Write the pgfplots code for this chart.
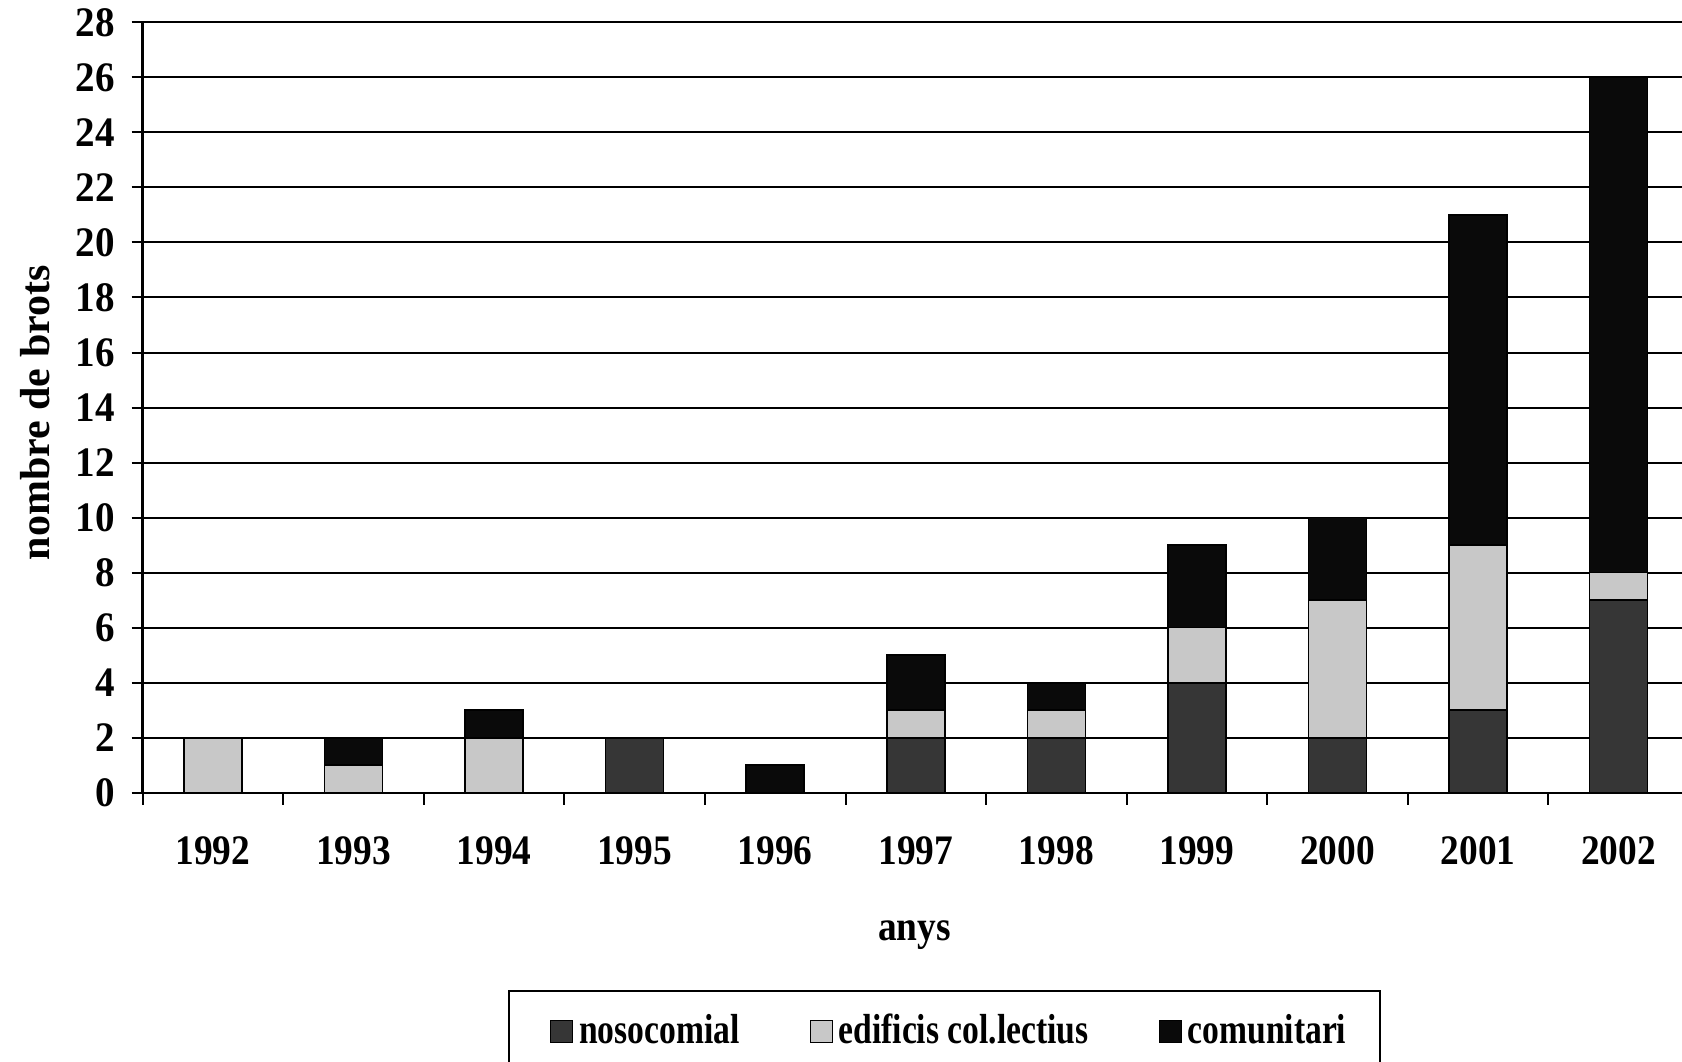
\documentclass[border=0pt]{standalone}
\usepackage{pgfplots}
\pgfplotsset{compat=1.18}
\usepackage{fontspec}
\setmainfont{Liberation Serif}
\newfontfamily\xfont[FakeStretch=0.89]{Liberation Serif}
\newfontfamily\lfont[FakeStretch=0.8]{Liberation Serif}
\newfontfamily\yfont[FakeStretch=0.93]{Liberation Serif}
\definecolor{nos}{HTML}{363636}
\definecolor{edi}{HTML}{C8C8C8}
\definecolor{com}{HTML}{0A0A0A}
\begin{document}
\begin{tikzpicture}
\begin{axis}[
  at={(0,0)}, anchor=south west,
  scale only axis,
  width=773.1pt, height=385.25pt,
  ybar stacked, bar width=29pt,
  xmin=-0.5, xmax=10.5, ymin=0, ymax=28,
  axis lines*=left,
  axis line style={black, line width=1.2pt},
  tick align=outside,
  major tick length=5.5pt,
  ytick={0,2,...,28},
  ytick style={black, line width=1pt},
  xtick={0,...,10},
  xticklabels={1992,1993,1994,1995,1996,1997,1998,1999,2000,2001,2002},
  xtick style={draw=none},
  extra x ticks={-0.5,0.5,...,9.5},
  extra x tick labels={},
  extra x tick style={major tick length=6pt, xtick style={draw=black, line width=1pt}},
  ymajorgrids,
  grid style={black, line width=1pt},
  /pgf/number format/assume math mode=true,
  yticklabel style={font=\yfont\bfseries\fontsize{21}{25}\selectfont, inner sep=0pt, xshift=-8.35pt},
  xticklabel style={font=\xfont\bfseries\fontsize{21}{25}\selectfont, anchor=base, inner sep=0pt, yshift=-30.2pt},
  ylabel={nombre de brots},
  ylabel style={at={(axis description cs:-0.0693,0.4934)}, anchor=center, rotate=0, font=\bfseries\fontsize{21}{25}\selectfont},
  xlabel={anys},
  xlabel style={at={(axis description cs:0.4992,-0.1912)}, anchor=base, font=\xfont\bfseries\fontsize{21}{25}\selectfont},
  legend columns=3,
  legend cell align=left,
  legend image code/.code={\draw[#1, draw=black, line width=0.5pt] (0pt,-6pt) rectangle (11pt,5pt);},
  legend style={at={(axis description cs:0.2363,-0.2561)}, anchor=north west, draw=black, line width=1pt,
    inner xsep=20.5pt, inner ysep=11.5pt, font=\lfont\bfseries\fontsize{21}{25}\selectfont,
    nodes={inner sep=0pt},
    /tikz/every odd column/.append style={column sep=3pt},
    /tikz/every even column/.append style={column sep=35pt}},
]
\addplot[fill=nos, draw=black, line width=0.8pt] coordinates {(0,0) (1,0) (2,0) (3,2) (4,0) (5,2) (6,2) (7,4) (8,2) (9,3) (10,7)};
\addplot[fill=edi, draw=black, line width=0.8pt] coordinates {(0,2) (1,1) (2,2) (3,0) (4,0) (5,1) (6,1) (7,2) (8,5) (9,6) (10,1)};
\addplot[fill=com, draw=black, line width=0.8pt] coordinates {(0,0) (1,1) (2,1) (3,0) (4,1) (5,2) (6,1) (7,3) (8,3) (9,12) (10,18)};
\legend{nosocomial, edificis col.lectius, comunitari\hspace*{-3.75pt}}
\end{axis}
\pgfresetboundingbox
\useasboundingbox (-71.35pt,-134.15pt) rectangle (769.65pt,396.4pt);
\end{tikzpicture}
\end{document}
